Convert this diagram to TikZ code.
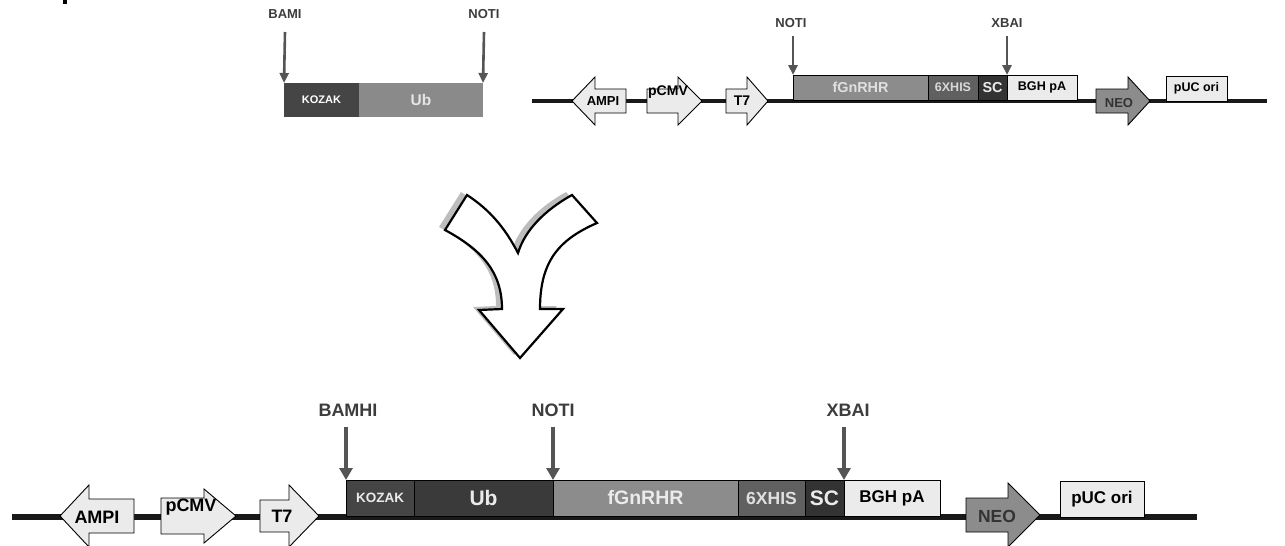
\documentclass[tikz,border=0pt]{standalone}
\usepackage{fontspec}
\setmainfont{Liberation Sans}
\usetikzlibrary{arrows.meta}
\definecolor{sitec}{HTML}{555555}
\definecolor{lblc}{HTML}{3C3C3C}
\definecolor{kozakc}{HTML}{454545}
\definecolor{ubdark}{HTML}{3A3A3A}
\definecolor{ublight}{HTML}{8A8A8A}
\definecolor{fgnc}{HTML}{8C8C8C}
\definecolor{hisc}{HTML}{606060}
\definecolor{scc}{HTML}{333333}
\definecolor{palec}{HTML}{EBEBEB}
\definecolor{neoc}{HTML}{8C8C8C}
\definecolor{shadowc}{HTML}{BDBDBD}
\newcommand\fsz[1]{\fontsize{#1}{#1}\selectfont\bfseries}
% tail x, head-base x, tip x, y centre, body half, head half
\newcommand\garrow[7]{\draw[genearrow,fill=#7] (#1,#4-#5) -- (#2,#4-#5) -- (#2,#4-#6) -- (#3,#4) -- (#2,#4+#6) -- (#2,#4+#5) -- (#1,#4+#5) -- cycle;}
\newcommand\Ypath{(467,195) -- (445,230) .. controls (482,250) and (502,272) .. (502,309) -- (479,310) -- (520,358) -- (563,309) -- (540,309) .. controls (540,262) and (558,240) .. (597,223) -- (572,195) .. controls (545,210) and (525,230) .. (518,253) .. controls (505,228) and (490,210) .. (467,195) -- cycle}
\begin{document}
\begin{tikzpicture}[x=1pt,y=-1pt,
  box/.style={inner sep=0pt, outer sep=0pt, anchor=south west, draw=black, line width=0.8pt},
  genearrow/.style={draw=black, line width=0.9pt, line join=miter},
  sitebig/.style={draw=sitec, line width=3.5pt, -{Triangle[width=13pt,length=12pt]}},
  sitesmall/.style={draw=sitec, line width=2.6pt, -{Triangle[width=9pt,length=10pt]}},
  lbl/.style={inner sep=0pt, text=lblc},
  backbone/.style={draw=black!90, line cap=butt}]
\useasboundingbox (0,0) rectangle (1285,546);
\fill (63,0) rectangle (67,4);

% ---------- top left insert ----------
\node[box, draw=none, fill=kozakc, minimum width=75pt, minimum height=34pt, text=white, font=\fsz{11}] (tkz) at (284,117) {KOZAK};
\node[box, draw=none, fill=ublight, minimum width=124pt, minimum height=34pt, text=white!90!black, font=\fsz{15.5}] (tub) at (359,117) {Ub};
\node[lbl, font=\fsz{13}] (tlbam) at (285,14) {BAMI};
\node[lbl, font=\fsz{13}] (tlnot) at (484,14) {NOTI};
\coordinate (ts1) at (285,32);
\coordinate (ts2) at (484,32);
\draw[sitesmall] (ts1) -- (tkz.north west);
\draw[sitesmall] (ts2) -- (tub.north east);

% ---------- top right vector ----------
\coordinate (tbl) at (532,101);
\coordinate (tbr) at (1267,101);
\draw[backbone, line width=3.5pt] (tbl) -- (tbr);
\garrow{626}{595}{572}{101}{12}{24}{palec}
\node[font=\fsz{13}] (tampi) at (603,101) {AMPI};
\garrow{647}{678}{702}{101}{12}{24}{palec}
\node[font=\fsz{14}] (tcmv) at (668,92) {pCMV};
\garrow{726}{747}{768}{101}{12}{24}{palec}
\node[font=\fsz{14}] (tt7) at (742,101) {T7};
\garrow{1096}{1128}{1150}{101}{12}{24}{neoc}
\node[font=\fsz{13}, text=black!80] (tneo) at (1119,103) {NEO};
\node[box, fill=fgnc, minimum width=135pt, minimum height=25pt, text=white!88!black, font=\fsz{14.4}] (tfg) at (793,100) {fGnRHR};
\node[box, fill=hisc, minimum width=50pt, minimum height=25pt, text=white!85!black, font=\fsz{12.5}] (this) at (928,100) {6XHIS};
\node[box, fill=scc, minimum width=29pt, minimum height=25pt, text=white!92!black, font=\fsz{14.4}] (tsc) at (978,100) {SC};
\node[box, fill=palec, minimum width=70pt, minimum height=25pt, text=black, font=\fsz{12.6}] (tbgh) at (1007,100) {BGH pA};
\node[box, fill=palec, minimum width=61pt, minimum height=25pt, text=black, font=\fsz{12.5}] (tpuc) at (1166,101) {pUC ori};
\node[lbl, font=\fsz{13}] (tlnot2) at (791,23) {NOTI};
\node[lbl, font=\fsz{13}] (tlxba) at (1007,23) {XBAI};
\coordinate (ts3) at (793,36);
\coordinate (ts4) at (1007,36);
\draw[sitesmall] (ts3) -- (tfg.north west);
\draw[sitesmall] (ts4) -- (tbgh.north west);

% ---------- merge arrow ----------
\fill[shadowc, shift={(-6,-3)}] \Ypath;
\draw[line width=2.2pt, fill=white, line join=miter] \Ypath;

% ---------- bottom construct ----------
\coordinate (bbl) at (12,517);
\coordinate (bbr) at (1197,517);
\draw[backbone, line width=6pt] (bbl) -- (bbr);
\garrow{134}{89}{60}{516}{17}{31}{palec}
\node[font=\fsz{18}] (bampi) at (97,517) {AMPI};
\garrow{161}{204}{236}{516}{18}{27}{palec}
\node[font=\fsz{18}] (bcmv) at (191,507) {pCMV};
\garrow{260}{289}{319}{516}{16}{31}{palec}
\node[font=\fsz{18}] (bt7) at (282,516) {T7};
\garrow{966}{1008}{1040}{515}{17}{32}{neoc}
\node[font=\fsz{17.5}, text=black!80] (bneo) at (997,516) {NEO};
\node[box, fill=kozakc, minimum width=68pt, minimum height=36pt, text=white!92!black, font=\fsz{13.5}] (bkz) at (346,516) {KOZAK};
\node[box, fill=ubdark, minimum width=139pt, minimum height=36pt, text=white!92!black, font=\fsz{21}] (bub) at (414,516) {Ub};
\node[box, fill=fgnc, minimum width=185pt, minimum height=36pt, text=white!92!black, font=\fsz{19.5}] (bfg) at (553,516) {fGnRHR};
\node[box, fill=hisc, minimum width=67pt, minimum height=36pt, text=white!88!black, font=\fsz{17.5}] (bhis) at (738,516) {6XHIS};
\node[box, fill=scc, minimum width=39pt, minimum height=36pt, text=white!92!black, font=\fsz{21}] (bsc) at (805,516) {SC};
\node[box, fill=palec, minimum width=96pt, minimum height=36pt, text=black, font=\fsz{17}] (bbgh) at (844,516) {BGH pA};
\node[box, fill=palec, minimum width=84pt, minimum height=36pt, text=black, font=\fsz{17}] (bpuc) at (1060,517) {pUC ori};
\node[lbl, font=\fsz{18}] (blbam) at (348,410) {BAMHI};
\node[lbl, font=\fsz{18}] (blnot) at (553,410) {NOTI};
\node[lbl, font=\fsz{18}] (blxba) at (848,410) {XBAI};
\coordinate (bs1) at (346,427);
\coordinate (bs2) at (553,427);
\coordinate (bs3) at (844,427);
\draw[sitebig] (bs1) -- (bkz.north west);
\draw[sitebig] (bs2) -- (bfg.north west);
\draw[sitebig] (bs3) -- (bbgh.north west);
\end{tikzpicture}
\end{document}
